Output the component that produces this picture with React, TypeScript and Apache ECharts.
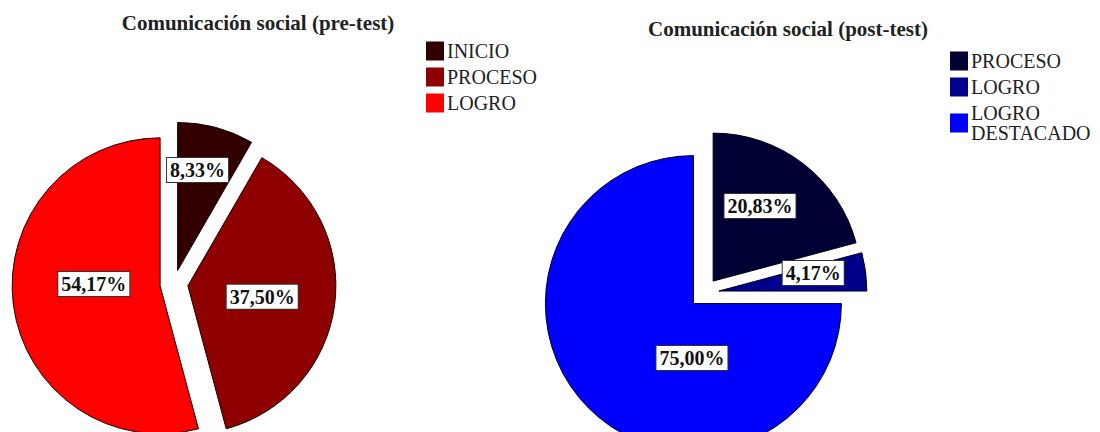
import React, { useEffect, useRef } from "react";
import * as echarts from "echarts";

const preCategories = ["INICIO", "PROCESO", "LOGRO"];
const preValues = [8.33, 37.5, 54.17];
const preColors = ["#330000", "#8f0000", "#ff0000"];

const postCategories = ["PROCESO", "LOGRO", "LOGRO DESTACADO"];
const postValues = [20.83, 4.17, 75.0];
const postColors = ["#000033", "#00008c", "#0000ff"];

const preTitle = "Comunicación social (pre-test)";
const postTitle = "Comunicación social (post-test)";

const fmt = (v: number) => v.toFixed(2).replace(".", ",") + "%";

export default function App() {
  const ref = useRef<HTMLDivElement>(null);
  useEffect(() => {
    if (!ref.current) return;
    const chart = echarts.init(ref.current, undefined, { renderer: "svg" });
    const serif = "Liberation Serif";
    const labelStyle = {
      show: true,
      position: "inside",
      formatter: (p: any) => fmt(p.value),
      color: "#111",
      fontFamily: serif,
      fontWeight: "bold",
      fontSize: 20,
      backgroundColor: "#fff",
      borderColor: "#333",
      borderWidth: 1,
      padding: [3, 3, 1, 3],
    };
    const preNudge = [
      [0, -26],
      [-2, 1],
      [10, -12],
    ];
    const postNudge = [
      [0, -14],
      [18, -8],
      [53, 0],
    ];
    const legendText = {
      fontFamily: serif,
      fontSize: 20,
      lineHeight: 20,
      color: "#222",
      padding: [0, 0, 0, -2],
    };
    chart.setOption({
      animation: false,
      textStyle: { fontFamily: serif },
      title: [
        {
          text: preTitle,
          left: 253,
          top: 7,
          textAlign: "center",
          textStyle: { fontFamily: serif, fontWeight: "bold", fontSize: 21, color: "#222" },
        },
        {
          text: postTitle,
          left: 783,
          top: 13,
          textAlign: "center",
          textStyle: { fontFamily: serif, fontWeight: "bold", fontSize: 21, color: "#222" },
        },
      ],
      legend: [
        {
          data: preCategories.map((n, i) => ({
            name: n,
            itemStyle: { color: preColors[i], borderWidth: 0 },
            textStyle: legendText,
          })),
          orient: "vertical",
          left: 421,
          top: 36,
          itemWidth: 18,
          itemHeight: 19,
          itemGap: 6,
          selectedMode: false,
          icon: "rect",
          textStyle: legendText,
        },
        {
          data: postCategories.map((n, i) => ({
            name: n,
            itemStyle: { color: postColors[i], borderWidth: 0 },
            textStyle: legendText,
          })),
          orient: "vertical",
          left: 945,
          top: 46,
          itemWidth: 18,
          itemHeight: 19,
          itemGap: 6,
          selectedMode: false,
          icon: "rect",
          formatter: (name: string) => name.replace(" ", "\n"),
          textStyle: legendText,
        },
      ],
      series: [
        {
          type: "pie",
          center: [174, 284],
          radius: 148,
          startAngle: 90,
          clockwise: true,
          selectedMode: "multiple",
          selectedOffset: 14,
          silent: true,
          itemStyle: { borderColor: "#1a0000", borderWidth: 1 },
          label: labelStyle,
          labelLine: { show: false },
          labelLayout: (p: any) => ({ dx: preNudge[p.dataIndex][0], dy: preNudge[p.dataIndex][1] }),
          data: preCategories.map((n, i) => ({
            name: n,
            value: preValues[i],
            selected: true,
            itemStyle: { color: preColors[i] },
          })),
        },
        {
          type: "pie",
          center: [704, 293],
          radius: 148,
          startAngle: 90,
          clockwise: true,
          selectedMode: "multiple",
          selectedOffset: 15,
          silent: true,
          itemStyle: { borderColor: "#00001a", borderWidth: 1 },
          label: labelStyle,
          labelLine: { show: false },
          labelLayout: (p: any) => ({ dx: postNudge[p.dataIndex][0], dy: postNudge[p.dataIndex][1] }),
          data: postCategories.map((n, i) => ({
            name: n,
            value: postValues[i],
            selected: true,
            itemStyle: { color: postColors[i] },
          })),
        },
      ],
    });
    return () => chart.dispose();
  }, []);
  return (
    <div
      ref={ref}
      style={{ position: "absolute", left: 0, top: 0, width: 1100, height: 432, background: "#fff" }}
    />
  );
}
